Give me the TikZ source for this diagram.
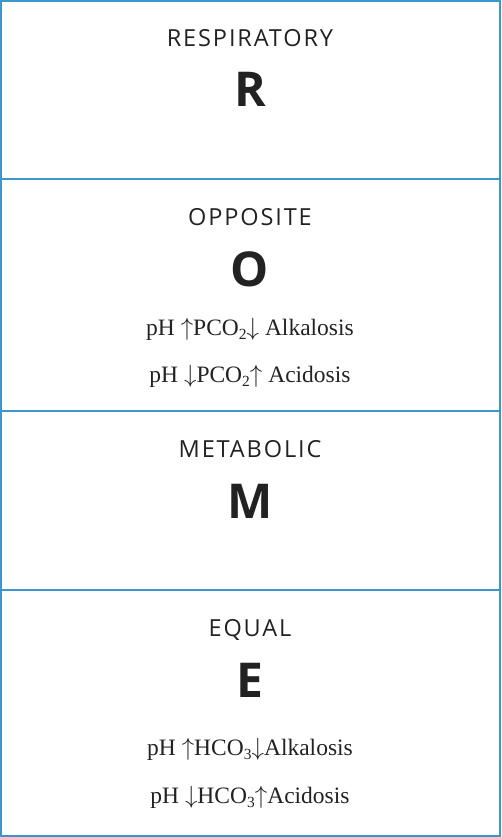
\documentclass[tikz,border=0pt]{standalone}
\usepackage{fontspec}
\setmainfont{Liberation Serif}
\newfontfamily\headfont[LetterSpace=8]{Open Sans}
\newfontfamily\bigfont{Open Sans}
\definecolor{boxblue}{HTML}{3A96CC}
\definecolor{ink}{HTML}{222222}
\newcommand{\lowsub}[1]{\raisebox{-0.4ex}{\fontsize{15.5}{15.5}\selectfont #1}}
\tikzset{
  cell/.style={draw=boxblue, line width=2pt},
  title/.style={anchor=base, text=ink, font=\headfont\fontsize{23.5}{28}\selectfont},
  letter/.style={anchor=base, text=ink, font=\bigfont\bfseries\fontsize{48}{56}\selectfont},
  formula/.style={anchor=base, text=ink, font=\fontsize{23.5}{26}\selectfont}
}
\begin{document}
\begin{tikzpicture}[x=1pt, y=-1pt]
    \useasboundingbox (0,0) rectangle (501,837);
    % the four cells
    \draw[cell] (1,1) rectangle (500,179);
    \draw[cell] (1,179) rectangle (500,411);
    \draw[cell] (1,411) rectangle (500,590);
    \draw[cell] (1,590) rectangle (500,836);
    % respiratory
    \node[title] (resp) at (250,47) {RESPIRATORY};
    \node[letter] (r) at (250,107) {R};
    % opposite
    \node[title] (opp) at (250,225) {OPPOSITE};
    \node[letter] (o) at (250,286) {O};
    \node[formula] (oup) at (250,335) {pH $\uparrow$PCO\lowsub{2}$\downarrow$ Alkalosis};
    \node[formula] (odown) at (250,382) {pH $\downarrow$PCO\lowsub{2}$\uparrow$ Acidosis};
    % metabolic
    \node[title] (meta) at (250,457) {METABOLIC};
    \node[letter] (m) at (250,518) {M};
    % equal
    \node[title] (equal) at (250,636) {EQUAL};
    \node[letter] (e) at (250,697) {E};
    \node[formula] (eup) at (250,755) {pH $\uparrow$HCO\lowsub{3}$\downarrow$Alkalosis};
    \node[formula] (edown) at (250,803) {pH $\downarrow$HCO\lowsub{3}$\uparrow$Acidosis};
\end{tikzpicture}
\end{document}
